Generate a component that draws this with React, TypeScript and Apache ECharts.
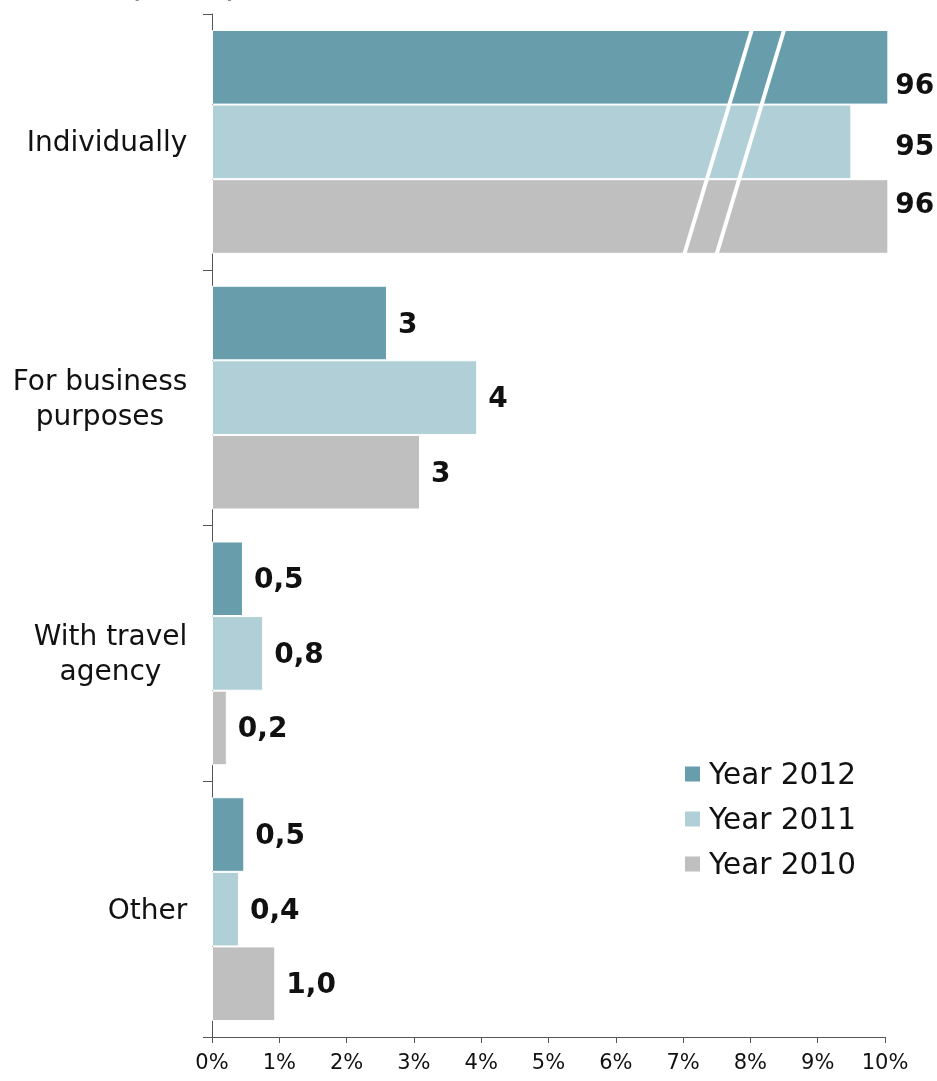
import React, { useEffect, useRef } from "react";
import * as echarts from "echarts";

const categories = ["Individually", "For business\npurposes", "With travel\nagency", "Other"];
const seriesNames = ["Year 2012", "Year 2011", "Year 2010"];
const share2012 = [96, 2.6, 0.46, 0.48];
const share2011 = [95, 3.94, 0.76, 0.4];
const share2010 = [96, 3.09, 0.22, 0.94];
const labels2012 = ["96", "3", "0,5", "0,5"];
const labels2011 = ["95", "4", "0,8", "0,4"];
const labels2010 = ["96", "3", "0,2", "1,0"];
const xTicks = [0, 1, 2, 3, 4, 5, 6, 7, 8, 9, 10];
const colors = ["#689EAC", "#B0CFD6", "#BFBFBF"];

// broken value axis: values above the break are compressed (95 -> 9.5 on the axis)
const BREAK_VALUE = 95;
const BREAK_POS = 9.5;
const BREAK_SLOPE = 0.55;
const toAxis = (v: number) => (v > 10 ? BREAK_POS + (v - BREAK_VALUE) * BREAK_SLOPE : v);
// vertical shift of the labels of the broken bars (per series)
const brokenLabelShift = [17, 4, -13];

const W = 937;
const H = 1081;
const GRID = { left: 212, right: 52, top: 14, bottom: 44 };
const FONT = "DejaVu Sans";
const TEXT = "#111";

export default function App() {
  const ref = useRef<HTMLDivElement>(null);
  useEffect(() => {
    if (!ref.current) return;
    const chart = echarts.init(ref.current, null, { renderer: "svg", width: W, height: H });
    const pxPerUnit = (W - GRID.left - GRID.right) / 10;

    // measure multi-line category labels for centered alignment
    const canvas = document.createElement("canvas");
    const ctx = canvas.getContext("2d")!;
    ctx.font = `28px "${FONT}"`;
    const rich: any = {};
    categories.forEach((c, i) => {
      const w = Math.max(...c.split("\n").map((l) => ctx.measureText(l).width));
      rich["c" + i] = { width: Math.ceil(w) + 1, align: "center", fontSize: 28, fontFamily: FONT, color: TEXT, lineHeight: 35 };
    });

    const allValues = [share2012, share2011, share2010];
    const allLabels = [labels2012, labels2011, labels2010];
    const maxBroken = Math.max(...allValues.map((s) => toAxis(s[0])));

    const series = seriesNames.map((name, si) => ({
      type: "bar",
      name,
      clip: false,
      barGap: "0%",
      barCategoryGap: "12.5%",
      itemStyle: { color: colors[si], borderColor: "#ffffff", borderWidth: 1 },
      data: allValues[si].map((v, ci) => {
        const av = toAxis(v);
        const broken = v > 10;
        return {
          value: av,
          label: {
            show: true,
            position: "right",
            distance: broken ? 7 + (maxBroken - av) * pxPerUnit : 11,
            offset: broken ? [0, brokenLabelShift[si]] : [0, 0],
            formatter: allLabels[si][ci],
            fontFamily: FONT,
            fontWeight: "bold",
            fontSize: 28,
            color: TEXT,
          },
        };
      }),
    }));

    chart.setOption({
      animation: false,
      title: {
        text: "(in %)",
        left: 122,
        top: -42,
        textStyle: { fontFamily: FONT, fontSize: 38, fontWeight: "normal", color: TEXT },
      },
      grid: { ...GRID, containLabel: false },
      legend: {
        orient: "vertical",
        left: 683,
        top: 759,
        padding: 0,
        itemWidth: 17,
        itemHeight: 17,
        itemGap: 15,
        icon: "rect",
        textStyle: { fontFamily: FONT, fontSize: 29.5, color: TEXT, lineHeight: 30, padding: [0, 0, 0, 3] },
        data: seriesNames,
      },
      xAxis: {
        type: "value",
        min: 0,
        max: 10,
        interval: 1,
        axisLine: { show: true, lineStyle: { color: "#555", width: 1 } },
        axisTick: { show: true, length: 6, lineStyle: { color: "#555" } },
        splitLine: { show: false },
        axisLabel: {
          formatter: (v: number) => (xTicks.includes(v) ? v + "%" : ""),
          fontFamily: FONT,
          fontSize: 21,
          color: TEXT,
          margin: 14,
        },
      },
      yAxis: {
        type: "category",
        inverse: true,
        data: categories,
        axisLine: { show: true, lineStyle: { color: "#555", width: 1 } },
        axisTick: { show: true, length: 9, lineStyle: { color: "#555" } },
        axisLabel: {
          margin: 24,
          align: "right",
          formatter: (v: string) => {
            const i = categories.indexOf(v);
            return v
              .split("\n")
              .map((l) => `{c${i}|${l}}`)
              .join("\n");
          },
          rich,
        },
      },
      series,
    });

    // break marks across the "Individually" bars
    const yc = chart.convertToPixel({ yAxisIndex: 0 }, categories[0]) as number;
    const bandH = (H - GRID.top - GRID.bottom) / categories.length;
    const half = bandH * 0.4375;
    const y0 = yc - half;
    const y1 = yc + half;
    const xp = (v: number) => chart.convertToPixel({ xAxisIndex: 0 }, v) as number;
    const breaks = [
      [8.02, 7.02],
      [8.5, 7.5],
    ];
    chart.setOption({
      graphic: breaks.map(([a, b]) => ({
        type: "line",
        z: 100,
        shape: { x1: xp(a), y1: y0, x2: xp(b), y2: y1 },
        style: { stroke: "#ffffff", lineWidth: 4 },
      })),
    });

    return () => chart.dispose();
  }, []);
  return <div ref={ref} style={{ position: "fixed", left: 0, top: 0, width: W, height: H }} />;
}
